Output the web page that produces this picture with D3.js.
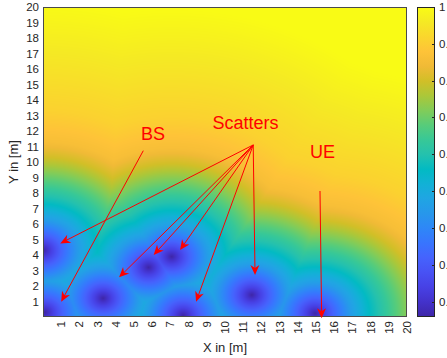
<!DOCTYPE html>
<html>
<head>
  <meta charset="utf-8">
  <script src="https://d3js.org/d3.v7.min.js"></script>
  <style>
    html, body { margin: 0; padding: 0; background: #fff; overflow: hidden; }
    svg { display: block; font-family: "Liberation Sans", Arial, Helvetica, sans-serif; }
  </style>
</head>
<body>
  <div id="chart"></div>

  <script>
    // Dark spots (field minima), in metres
    const sourceX = [0.1, 0.0, 3.3, 5.8, 7.07, 7.7, 11.47, 14.95];
    const sourceY = [0.3, 4.3, 1.21, 3.2, 3.89, 0.1, 1.42, 0.24];

    // Map value against distance to the nearest dark spot
    const ringDist  = [0, 0.5, 1, 2, 3, 4, 5, 6, 7, 9, 12, 16];
    const ringLevel = [0.158, 0.24, 0.32, 0.46, 0.56, 0.64, 0.72, 0.80, 0.86, 0.91, 0.95, 1.0];

    // Annotation arrows (start -> tip), metres
    const arrowX0 = [11.55, 11.55, 11.55, 11.55, 11.55, 11.55, 5.51, 15.22];
    const arrowY0 = [11.1, 11.1, 11.1, 11.1, 11.1, 11.1, 10.73, 8.13];
    const arrowX1 = [0.95, 4.18, 6.08, 7.53, 8.41, 11.65, 1.0, 15.31];
    const arrowY1 = [4.75, 2.56, 4.0, 4.32, 0.99, 2.71, 0.99, -0.08];

    // Annotation labels (centre x, baseline y), metres
    const noteText = ["BS", "Scatters", "UE"];
    const noteX = [6.04, 11.13, 15.36];
    const noteY = [11.42, 12.13, 10.26];

    // Tick labels
    const xTicks = [1, 2, 3, 4, 5, 6, 7, 8, 9, 10, 11, 12, 13, 14, 15, 16, 17, 18, 19, 20];
    const yTicks = [1, 2, 3, 4, 5, 6, 7, 8, 9, 10, 11, 12, 13, 14, 15, 16, 17, 18, 19, 20];
    const cTicks = [0.2, 0.3, 0.4, 0.5, 0.6, 0.7, 0.8, 0.9, 1];
    const cRange = [0.158, 1];

    // MATLAB parula (every 3rd entry of the 64 colour table)
    const parula = [
      [0.2422, 0.1504, 0.6603], [0.2647, 0.1978, 0.7952], [0.2783, 0.2559, 0.8991],
      [0.2810, 0.3228, 0.9579], [0.2699, 0.3892, 0.9906], [0.2206, 0.4603, 0.9973],
      [0.1786, 0.5289, 0.9682], [0.1540, 0.5902, 0.9218], [0.1248, 0.6459, 0.8883],
      [0.0689, 0.6948, 0.8394], [0.0067, 0.7300, 0.7659], [0.1408, 0.7571, 0.6842],
      [0.2161, 0.7843, 0.5923], [0.3406, 0.8008, 0.4789], [0.5044, 0.7993, 0.3480],
      [0.6720, 0.7793, 0.2227], [0.8203, 0.7498, 0.1535], [0.9393, 0.7288, 0.2100],
      [0.9970, 0.7659, 0.2199], [0.9786, 0.8386, 0.1766], [0.9597, 0.9135, 0.1423],
      [0.9769, 0.9839, 0.0805]
    ];
    const parulaPos = [0, 3, 6, 9, 12, 15, 18, 21, 24, 27, 30, 33, 36, 39, 42, 45, 48, 51, 54, 57, 60, 63].map(i => i / 63);
    const parulaHex = parula.map(c => d3.rgb(c[0] * 255, c[1] * 255, c[2] * 255).formatHex());

    const W = 447, H = 358;
    const plot = {left: 43, right: 407, top: 7, bottom: 317};
    const bar = {left: 417, right: 435};

    const x = d3.scaleLinear().domain([0, 20]).range([plot.left, plot.right]);
    const y = d3.scaleLinear().domain([0, 20]).range([plot.bottom, plot.top]);
    const cy = d3.scaleLinear().domain(cRange).range([plot.bottom, plot.top]);

    const level = d3.scaleLinear().domain(ringDist).range(ringLevel).clamp(true);
    const tScale = d3.scaleLinear().domain(cRange).range([0, 1]).clamp(true);
    const colour = d3.scaleLinear().domain(parulaPos).range(parulaHex).interpolate(d3.interpolateRgb);

    const svg = d3.select("#chart").append("svg")
      .attr("width", W).attr("height", H);

    // Heat map raster
    const pw = plot.right - plot.left, ph = plot.bottom - plot.top;
    const canvas = document.createElement("canvas");
    canvas.width = pw; canvas.height = ph;
    const ctx = canvas.getContext("2d");
    const img = ctx.createImageData(pw, ph);
    for (let j = 0; j < ph; j++) {
      const my = y.invert(plot.top + j + 0.5);
      for (let i = 0; i < pw; i++) {
        const mx = x.invert(plot.left + i + 0.5);
        let dmin = Infinity;
        for (let k = 0; k < sourceX.length; k++) {
          const d = Math.hypot(mx - sourceX[k], my - sourceY[k]);
          if (d < dmin) dmin = d;
        }
        const c = d3.rgb(colour(tScale(level(dmin))));
        const p = (j * pw + i) * 4;
        img.data[p] = c.r; img.data[p + 1] = c.g; img.data[p + 2] = c.b; img.data[p + 3] = 255;
      }
    }
    ctx.putImageData(img, 0, 0);

    svg.append("image")
      .attr("x", plot.left).attr("y", plot.top)
      .attr("width", pw).attr("height", ph)
      .attr("href", canvas.toDataURL());

    // Frame
    svg.append("rect")
      .attr("x", plot.left + 0.5).attr("y", plot.top + 0.5)
      .attr("width", pw - 1).attr("height", ph - 1)
      .attr("fill", "none").attr("stroke", "#4a4a4a").attr("stroke-width", 1);

    // Axis tick labels
    svg.append("g").selectAll("text")
      .data(yTicks).join("text")
        .attr("x", plot.left - 4)
        .attr("y", d => y(d))
        .attr("dy", "0.35em")
        .attr("text-anchor", "end")
        .attr("font-size", 11.5)
        .attr("fill", "#262626")
        .text(d => d);

    svg.append("g").selectAll("text")
      .data(xTicks).join("text")
        .attr("transform", d => `translate(${x(d)},${plot.bottom + 4}) rotate(-90)`)
        .attr("dy", "0.35em")
        .attr("text-anchor", "end")
        .attr("font-size", 11.5)
        .attr("fill", "#262626")
        .text(d => d);

    svg.append("text")
      .attr("x", (plot.left + plot.right) / 2)
      .attr("y", 352)
      .attr("text-anchor", "middle")
      .attr("font-size", 13)
      .attr("fill", "#262626")
      .text("X in [m]");

    svg.append("text")
      .attr("transform", `translate(18,${(plot.top + plot.bottom) / 2}) rotate(-90)`)
      .attr("text-anchor", "middle")
      .attr("font-size", 13)
      .attr("fill", "#262626")
      .text("Y in [m]");

    // Colour bar
    const grad = svg.append("defs").append("linearGradient")
      .attr("id", "cbar").attr("x1", 0).attr("y1", 1).attr("x2", 0).attr("y2", 0);
    grad.selectAll("stop")
      .data(parulaPos).join("stop")
        .attr("offset", d => d)
        .attr("stop-color", (d, i) => parulaHex[i]);

    svg.append("rect")
      .attr("x", bar.left + 0.5).attr("y", plot.top + 0.5)
      .attr("width", bar.right - bar.left - 1).attr("height", ph - 1)
      .attr("fill", "url(#cbar)")
      .attr("stroke", "#262626").attr("stroke-width", 1);

    const cAxis = svg.append("g");
    cAxis.selectAll("line")
      .data(cTicks).join("line")
        .attr("x1", bar.right - 3).attr("x2", bar.right)
        .attr("y1", d => Math.round(cy(d)) + 0.5).attr("y2", d => Math.round(cy(d)) + 0.5)
        .attr("stroke", "#262626");
    cAxis.selectAll("text")
      .data(cTicks).join("text")
        .attr("x", bar.right + 4)
        .attr("y", d => cy(d))
        .attr("dy", "0.35em")
        .attr("font-size", 11.5)
        .attr("fill", "#262626")
        .text(d => d);

    // Annotation arrows
    const notes = svg.append("g");
    arrowX0.forEach((_, i) => {
      const sx = x(arrowX0[i]), sy = y(arrowY0[i]);
      const tx = x(arrowX1[i]), ty = y(arrowY1[i]);
      const ang = Math.atan2(ty - sy, tx - sx) * 180 / Math.PI;
      const len = Math.hypot(tx - sx, ty - sy);
      notes.append("line")
        .attr("x1", sx).attr("y1", sy)
        .attr("x2", sx + (tx - sx) * (len - 6) / len)
        .attr("y2", sy + (ty - sy) * (len - 6) / len)
        .attr("stroke", "#ff0000").attr("stroke-width", 1);
      notes.append("path")
        .attr("d", "M0,0 L-10,-4.5 L-7,0 L-10,4.5 Z")
        .attr("transform", `translate(${tx},${ty}) rotate(${ang})`)
        .attr("fill", "#ff0000");
    });

    notes.selectAll("text")
      .data(noteText).join("text")
        .attr("x", (d, i) => x(noteX[i]))
        .attr("y", (d, i) => y(noteY[i]))
        .attr("text-anchor", "middle")
        .attr("font-size", 18)
        .attr("fill", "#ff0000")
        .text(d => d);
  </script>
</body>
</html>
